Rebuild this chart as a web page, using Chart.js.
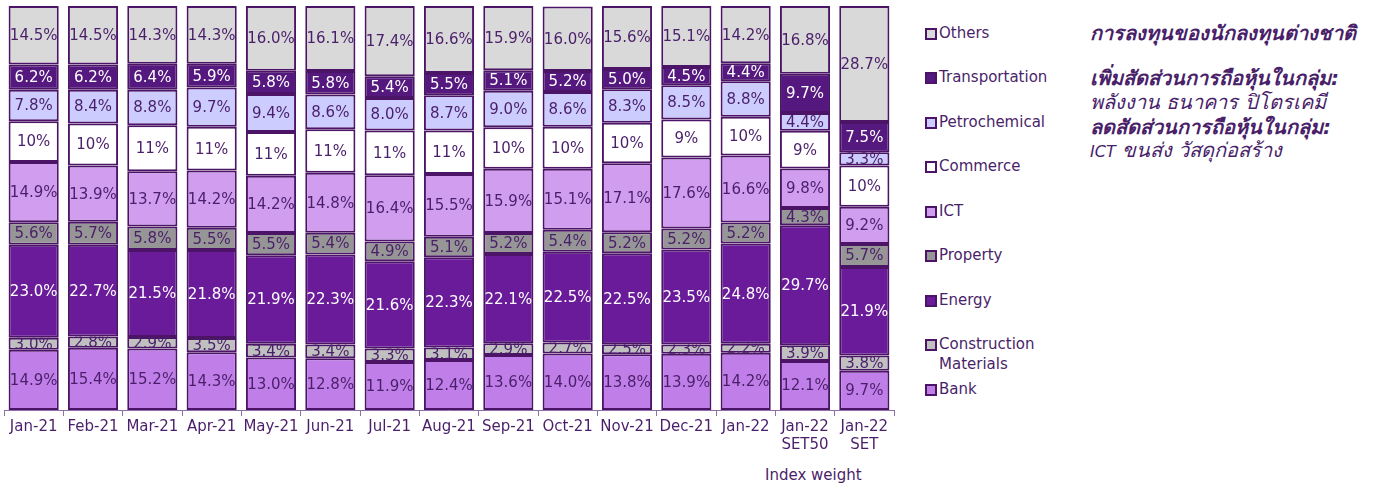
<!DOCTYPE html>
<html>
<head>
<meta charset="utf-8">
<script src="https://cdn.jsdelivr.net/npm/chart.js@4"></script>
<style>
  body { margin: 0; background: #ffffff; font-family: 'DejaVu Sans', sans-serif; color: #4a1f6a; }
  #wrap { position: relative; width: 1373px; height: 487px; }
  #chartBox { position: absolute; left: 0; top: 0; width: 900px; height: 456px; }
  #indexWeight { position: absolute; left: 765px; top: 466px; font-size: 15px; }
  #legend { position: absolute; left: 925px; top: 0; font-size: 15px; }
  .item { position: absolute; left: 0; white-space: nowrap; line-height: 20px; }
  .box { position: absolute; left: 0; top: 4px; width: 8px; height: 8px; border: 2px solid #4b1466; }
  .item span.txt { position: absolute; left: 14px; top: -1px; }
  #notes { position: absolute; left: 1090px; top: 0; font-size: 20px; font-style: italic; line-height: 24px; }
  #notes div { position: absolute; left: 0; white-space: nowrap; }
  #notes b { font-weight: bold; }
  #notes .lat { font-size: 16px; }
</style>
</head>
<body>
<div id="wrap">
  <div id="chartBox"><canvas id="sectorChart"></canvas></div>
  <div id="indexWeight">Index weight</div>
  <div id="legend"></div>
  <div id="notes">
    <div style="top:21px"><b>การลงทุนของนักลงทุนต่างชาติ</b></div>
    <div style="top:66px"><b>เพิ่มสัดส่วนการถือหุ้นในกลุ่ม:</b></div>
    <div style="top:90px">พลังงาน ธนาคาร ปิโตรเคมี</div>
    <div style="top:115px"><b>ลดสัดส่วนการถือหุ้นในกลุ่ม:</b></div>
    <div style="top:138px"><span class="lat">ICT</span> ขนส่ง วัสดุก่อสร้าง</div>
  </div>
</div>
<script>
const categories = [
  ['Jan-21'], ['Feb-21'], ['Mar-21'], ['Apr-21'], ['May-21'], ['Jun-21'], ['Jul-21'],
  ['Aug-21'], ['Sep-21'], ['Oct-21'], ['Nov-21'], ['Dec-21'], ['Jan-22'],
  ['Jan-22', 'SET50'], ['Jan-22', 'SET']
];

// sector weights in %, bottom of the stack first
const bank          = [14.9, 15.4, 15.2, 14.3, 13.0, 12.8, 11.9, 12.4, 13.6, 14.0, 13.8, 13.9, 14.2, 12.1, 9.7];
const constMat      = [3.0, 2.8, 2.9, 3.5, 3.4, 3.4, 3.3, 3.1, 2.9, 2.7, 2.5, 2.3, 2.2, 3.9, 3.8];
const energy        = [23.0, 22.7, 21.5, 21.8, 21.9, 22.3, 21.6, 22.3, 22.1, 22.5, 22.5, 23.5, 24.8, 29.7, 21.9];
const property      = [5.6, 5.7, 5.8, 5.5, 5.5, 5.4, 4.9, 5.1, 5.2, 5.4, 5.2, 5.2, 5.2, 4.3, 5.7];
const ict           = [14.9, 13.9, 13.7, 14.2, 14.2, 14.8, 16.4, 15.5, 15.9, 15.1, 17.1, 17.6, 16.6, 9.8, 9.2];
const commerce      = [10.1, 10.4, 11.4, 10.8, 10.8, 10.8, 11.1, 10.8, 10.3, 10.4, 10.0, 9.4, 9.6, 9.3, 10.2];
const petrochemical = [7.8, 8.4, 8.8, 9.7, 9.4, 8.6, 8.0, 8.7, 9.0, 8.6, 8.3, 8.5, 8.8, 4.4, 3.3];
const transport     = [6.2, 6.2, 6.4, 5.9, 5.8, 5.8, 5.4, 5.5, 5.1, 5.2, 5.0, 4.5, 4.4, 9.7, 7.5];
const others        = [14.5, 14.5, 14.3, 14.3, 16.0, 16.1, 17.4, 16.6, 15.9, 16.0, 15.6, 15.1, 14.2, 16.8, 28.7];

const textDark = '#4a1f6a';
const edge = '#4b1466';

const series = [
  { label: 'Bank', data: bank, color: '#c07fe8', text: textDark, dp: 1 },
  { label: 'Construction Materials', data: constMat, color: '#c0c0c0', text: textDark, dp: 1 },
  { label: 'Energy', data: energy, color: '#6a1b9a', text: '#ffffff', dp: 1 },
  { label: 'Property', data: property, color: '#969696', text: textDark, dp: 1 },
  { label: 'ICT', data: ict, color: '#d09def', text: textDark, dp: 1 },
  { label: 'Commerce', data: commerce, color: '#ffffff', text: textDark, dp: 0 },
  { label: 'Petrochemical', data: petrochemical, color: '#ccccff', text: textDark, dp: 1 },
  { label: 'Transportation', data: transport, color: '#55187f', text: '#ffffff', dp: 1 },
  { label: 'Others', data: others, color: '#d9d9d9', text: textDark, dp: 1 }
];

// labels inside each segment, clipped to the segment like in the original
const segmentLabels = {
  id: 'segmentLabels',
  afterDatasetsDraw(chart) {
    const ctx = chart.ctx;
    chart.data.datasets.forEach((ds, i) => {
      const meta = chart.getDatasetMeta(i);
      meta.data.forEach((bar, j) => {
        const top = Math.min(bar.y, bar.base);
        const bottom = Math.max(bar.y, bar.base);
        const left = bar.x - bar.width / 2;
        ctx.save();
        ctx.beginPath();
        ctx.rect(left, top, bar.width, bottom - top);
        ctx.clip();
        ctx.fillStyle = series[i].text;
        ctx.font = '15px "DejaVu Sans", sans-serif';
        ctx.textAlign = 'center';
        ctx.textBaseline = 'middle';
        ctx.fillText(ds.data[j].toFixed(series[i].dp) + '%', bar.x, (top + bottom) / 2 + 1);
        ctx.restore();
      });
    });
  }
};

const ctx = document.getElementById('sectorChart').getContext('2d');
new Chart(ctx, {
  type: 'bar',
  data: {
    labels: categories,
    datasets: series.map(s => ({
      label: s.label,
      data: s.data,
      backgroundColor: s.color,
      borderColor: edge,
      borderWidth: 2,
      borderSkipped: false,
      categoryPercentage: 1,
      barPercentage: 0.845
    }))
  },
  options: {
    responsive: true,
    maintainAspectRatio: false,
    animation: false,
    layout: { padding: { left: 4, right: 6, top: 6, bottom: 0 } },
    plugins: {
      legend: { display: false },
      tooltip: { enabled: false }
    },
    scales: {
      x: {
        stacked: true,
        offset: true,
        grid: { display: true, offset: true, drawOnChartArea: false, tickLength: 6, color: '#8f6fa8' },
        border: { display: true, color: '#8f6fa8' },
        ticks: {
          color: textDark,
          padding: 2,
          maxRotation: 0,
          autoSkip: false,
          font: { family: "'DejaVu Sans', sans-serif", size: 15 }
        }
      },
      y: {
        stacked: true,
        display: false,
        min: 0,
        max: 100
      }
    }
  },
  plugins: [segmentLabels]
});

// legend on the right, top item is the top of the stack
const legendRows = [
  { s: series[8], y: 34 },
  { s: series[7], y: 78 },
  { s: series[6], y: 123 },
  { s: series[5], y: 167 },
  { s: series[4], y: 212 },
  { s: series[3], y: 256 },
  { s: series[2], y: 301 },
  { s: series[1], y: 345, text: 'Construction<br>Materials' },
  { s: series[0], y: 390 }
];
const legend = document.getElementById('legend');
legendRows.forEach(r => {
  const div = document.createElement('div');
  div.className = 'item';
  div.style.top = (r.y - 10) + 'px';
  div.innerHTML = '<div class="box" style="background:' + r.s.color + '"></div><span class="txt">' + (r.text || r.s.label) + '</span>';
  legend.appendChild(div);
});
</script>
</body>
</html>
